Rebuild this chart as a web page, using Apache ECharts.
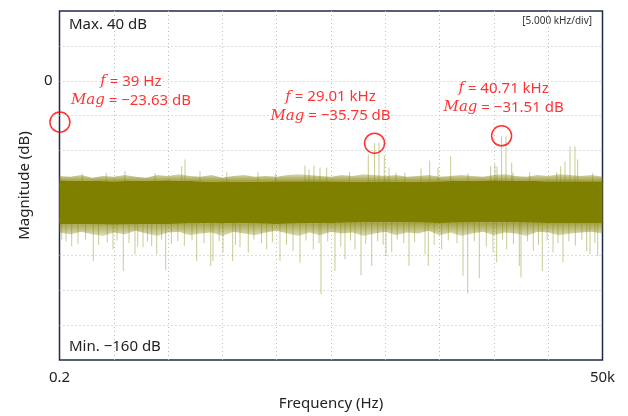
<!DOCTYPE html>
<html><head><meta charset="utf-8">
<script src="https://cdn.jsdelivr.net/npm/echarts@6/dist/echarts.min.js"></script>
<style>html,body{margin:0;padding:0;background:#fff}#c{width:628px;height:416px}</style>
</head><body><div id="c"></div>
<script>
// ---- data ----
const yMax = 40, yMin = -160;
const xMax = 50000;
const xTickLabels = {0: '0.2', 50000: '50k'};

const bandFreq = [0,1000,2000,3000,4000,5000,6000,7000,8000,9000,10000,11000,12000,13000,14000,15000,16000,17000,18000,19000,20000,21000,22000,23000,24000,25000,26000,27000,28000,29000,30000,31000,32000,33000,34000,35000,36000,37000,38000,39000,40000,41000,42000,43000,44000,45000,46000,47000,48000,49000,50000];
const fringeTop = [-54.5,-55,-54,-55.5,-54.5,-55,-54,-55,-55.5,-54,-54.5,-53.5,-54.5,-55,-54,-55.5,-54.5,-54,-55,-54.5,-55,-54,-53.5,-54,-54.5,-55,-54,-54.5,-53.5,-54,-54.5,-54,-55,-54.5,-54,-55,-54.5,-54,-54.5,-55,-54,-53.5,-54.5,-55,-54,-54.5,-53.5,-54,-54.5,-54,-55];
const fringeBottom = [-87,-88,-86.5,-88,-89,-87,-88,-86,-87.5,-89,-87,-86.5,-88.5,-87.5,-87,-89,-86.5,-87.5,-88.5,-87,-86,-87.5,-89,-87,-88.5,-86.5,-87.5,-87,-89,-87.5,-86.5,-88.5,-87,-87.5,-86,-88.5,-87,-89,-87.5,-86.5,-88.5,-87,-87.5,-89,-86.5,-87,-88.5,-87.5,-87,-86.5,-87.5];

const coreFreq = [0,5000,10000,15000,20000,25000,30000,35000,40000,45000,50000];
const coreTop = [-57,-57.5,-57,-58,-57.5,-57.5,-58,-57.5,-57,-57.5,-57.5];
const coreBottom = [-82,-82.5,-82,-81.5,-82,-81.5,-81,-81.5,-81,-81.5,-81.5];

const upFreq = [6031,11252,11556,12937,18278,22605,22973,23434,23986,24603,28434,29010,29419,29908,30341,30985,33287,34088,34852,36022,39705,40101,40285,40710,41114,41639,41758,45782,46150,46546,47006,47466,47715,
  2100,4300,8800,15400,19900,26700,31800,37600,43300,49100];
const upTip  = [-51.8,-49.0,-45.1,-51.8,-52.4,-48.6,-50.9,-48.6,-49.7,-49.7,-42.3,-35.75,-35.3,-42.9,-49.7,-52.6,-50.3,-45.7,-49.7,-43.3,-49.0,-48.0,-49.1,-31.51,-31.6,-46.9,-52.6,-52.5,-49.0,-46.1,-37.5,-37.5,-45.1,
  -53.2,-52.8,-53.0,-52.5,-53.1,-52.2,-52.7,-52.9,-52.4,-53.0];

const downFreq = [203,1123,3112,4926,5875,6952,7689,8490,8950,9779,12633,13923,14134,15055,15948,16621,17385,19079,20304,21501,22145,23370,24079,25368,26289,27210,27762,28748,30064,30590,32182,33656,33959,35194,37154,37587,38655,39918,40257,41178,42339,42494,43628,44456,45442,46362,48545,48848,49557,
  600,1700,2400,3600,4400,5300,6400,7200,8100,9400,10300,10900,11500,12200,13300,14700,16200,17900,18600,19600,20900,22700,23900,24700,25900,26800,28200,29300,29800,31100,31700,32700,34500,35800,36600,38200,39300,40800,41800,43100,44100,44900,45900,46900,47500,48100,49300];
const downTip  = [-91,-94.7,-103.3,-96.6,-109.0,-99.4,-95.4,-94.7,-99.4,-108.4,-103.3,-106.1,-103.3,-98.3,-103.3,-95.4,-98.5,-96.6,-103.3,-97.5,-104.2,-96.6,-122.3,-109.0,-102.3,-96.6,-111.4,-106.1,-100.4,-98.3,-106.1,-99.4,-106.1,-96.6,-111.8,-121.9,-113.1,-98.3,-104.0,-96.6,-106.1,-112.7,-97.5,-109.0,-98.3,-104.0,-97.5,-99.4,-100.4,
  -92,-93.5,-91,-94,-92.5,-91.5,-93,-95,-92,-91,-93.5,-92,-94.5,-91.5,-93,-92,-94,-91,-93,-92.5,-94,-91.5,-93,-92,-95,-91.5,-93.5,-92,-94,-91,-93,-92.5,-94,-91.5,-93,-92,-95,-91,-93.5,-92,-94,-91.5,-93,-92,-94.5,-91,-93];

const peakFreq = [39, 29010, 40710];
const peakMag  = [-23.63, -35.75, -31.51];

// ---- chart ----
const chart = echarts.init(document.getElementById('c'), null, {renderer: 'canvas'});
const OLIVE = 'rgb(128,128,0)';
const FONT = 'Noto Sans';

function polygonRenderer(fTop, vTop, fBot, vBot, fillFn) {
  return function (params, api) {
    const pts = [];
    for (let i = 0; i < fTop.length; i++) pts.push(api.coord([fTop[i], vTop[i]]));
    for (let i = fBot.length - 1; i >= 0; i--) pts.push(api.coord([fBot[i], vBot[i]]));
    return {type: 'polygon', shape: {points: pts}, style: {fill: fillFn()}};
  };
}
function spikeRenderer(base) {
  return function (params, api) {
    const a = api.coord([api.value(0), base]);
    const b = api.coord([api.value(0), api.value(1)]);
    return {type: 'line', shape: {x1: a[0], y1: a[1], x2: b[0], y2: b[1]},
      style: {stroke: 'rgba(128,128,0,0.42)', lineWidth: 1}};
  };
}
function fmtF(f) { return f < 1000 ? f + ' Hz' : (f / 1000).toFixed(2) + ' kHz'; }
function fmtM(m) { return (m < 0 ? '\u2212' : '') + Math.abs(m).toFixed(2) + ' dB'; }

const labelOffsets = [[71, -31], [-44, -37], [2, -38]];

const option = {
  animation: false,
  grid: {left: 59.5, right: 25.5, top: 11, bottom: 55, show: true, borderColor: '#1f2b4a', borderWidth: 1.5, backgroundColor: '#fff'},
  xAxis: {
    type: 'value', min: 0, max: xMax, interval: 5000,
    axisLine: {show: false}, axisTick: {show: false},
    axisLabel: {margin: 10, fontSize: 15, color: '#222', fontFamily: FONT,
      formatter: v => (xTickLabels[v] !== undefined ? xTickLabels[v] : ''), showMinLabel: true, showMaxLabel: true},
    splitLine: {show: true, showMinLine: false, showMaxLine: false, lineStyle: {color: '#bdbdbd', type: [1, 3], width: 1}},
    name: 'Frequency (Hz)', nameLocation: 'middle', nameGap: 36,
    nameTextStyle: {fontSize: 15, color: '#222', fontFamily: FONT}
  },
  yAxis: {
    type: 'value', min: yMin, max: yMax, interval: 20,
    axisLine: {show: false}, axisTick: {show: false},
    axisLabel: {margin: 7, fontSize: 15, color: '#222', fontFamily: FONT, formatter: v => (v === 0 ? '0' : '')},
    splitLine: {show: true, showMinLine: false, showMaxLine: false, lineStyle: {color: '#bdbdbd', type: [1, 3], width: 1}},
    name: 'Magnitude (dB)', nameLocation: 'middle', nameGap: 27,
    nameTextStyle: {fontSize: 15, color: '#222', fontFamily: FONT}
  },
  graphic: [
    {type: 'text', left: 69, top: 17, style: {text: 'Max. ' + yMax + ' dB', font: '15px "Noto Sans"', fill: '#222'}},
    {type: 'text', left: 69, top: 339, style: {text: 'Min. \u2212' + Math.abs(yMin) + ' dB', font: '15px "Noto Sans"', fill: '#222'}},
    {type: 'text', right: 36, top: 16, style: {text: '[' + (5000 / 1000).toFixed(3) + ' kHz/div]', font: '10px "Noto Sans"', fill: '#333'}}
  ],
  series: [
    {type: 'custom', clip: true, silent: true, z: 2, data: [[0, -60]],
      renderItem: polygonRenderer(bandFreq, fringeTop, coreFreq, coreTop,
        () => new echarts.graphic.LinearGradient(0, 0, 0, 1, [{offset: 0, color: 'rgba(128,128,0,0.3)'}, {offset: 1, color: 'rgba(128,128,0,0.8)'}]))},
    {type: 'custom', clip: true, silent: true, z: 2, data: [[0, -80]],
      renderItem: polygonRenderer(coreFreq, coreBottom, bandFreq, fringeBottom,
        () => new echarts.graphic.LinearGradient(0, 0, 0, 1, [{offset: 0, color: 'rgba(128,128,0,0.75)'}, {offset: 1, color: 'rgba(128,128,0,0.25)'}]))},
    {type: 'custom', clip: true, silent: true, z: 3,
      data: upFreq.map((f, i) => [f, upTip[i]]), renderItem: spikeRenderer(-60)},
    {type: 'custom', clip: true, silent: true, z: 3,
      data: downFreq.map((f, i) => [f, downTip[i]]), renderItem: spikeRenderer(-78)},
    {type: 'custom', clip: true, silent: true, z: 4, data: [[0, -70]],
      renderItem: polygonRenderer(coreFreq, coreTop, coreFreq, coreBottom, () => OLIVE)},
    {type: 'scatter', z: 10, clip: false, silent: true, symbol: 'circle', symbolSize: 20,
      itemStyle: {color: 'rgba(0,0,0,0)', borderColor: '#ff0000', borderWidth: 1.5},
      data: peakFreq.map((f, i) => ({
        value: [f, peakMag[i]],
        label: {
          show: true, position: 'inside', offset: labelOffsets[i],
          formatter: '{i|f}{n| = ' + fmtF(f) + '}\n{i|Mag}{n| = ' + fmtM(peakMag[i]) + '}',
          rich: {
            i: {fontFamily: 'DejaVu Serif', fontStyle: 'italic', fontSize: 15, color: '#ff0000', lineHeight: 19},
            n: {fontFamily: FONT, fontSize: 15, color: '#ff0000', lineHeight: 19}
          }
        }
      }))}
  ]
};
chart.setOption(option);
</script>
</body></html>
